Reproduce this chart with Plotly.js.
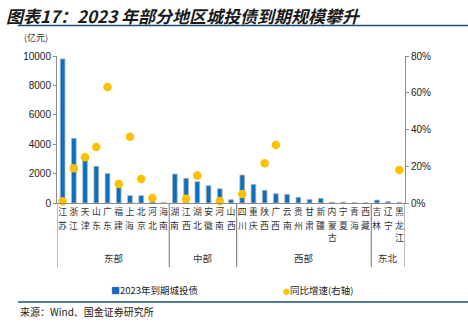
<!DOCTYPE html>
<html><head><meta charset="utf-8">
<script src="https://cdn.plot.ly/plotly-3.0.1.min.js"></script>
<style>html,body{margin:0;padding:0;background:#fff;}#c{width:468px;height:324px;}</style>
</head><body><div id="c"></div>
<script>
const provinces = ["江苏","浙江","天津","山东","广东","福建","上海","北京","河北","海南",
  "湖南","江西","湖北","安徽","河南","山西",
  "四川","重庆","陕西","广西","云南","贵州","甘肃","新疆","内蒙古","宁夏","青海","西藏",
  "吉林","辽宁","黑龙江"];
const maturity = [9800,4400,2950,2500,2000,1100,500,500,150,30,
  1970,1680,1450,1180,970,225,
  1900,1270,860,630,590,390,240,320,50,50,30,20,
  200,90,40];
const growth = [1,18.9,24.9,30.5,63.1,10.3,36.1,13,2.7,null,
  null,2.3,14.9,null,1.1,null,
  4.9,null,21.6,31.6,null,null,null,null,null,null,null,null,
  null,null,18];
const regions = ["东部","中部","西部","东北"];
const regionSizes = [10,6,12,3];
const leftTicks = [0,2000,4000,6000,8000,10000];
const rightTicks = [0,20,40,60,80];

const idx = provinces.map((_, i) => i);
const tickText = provinces.map(p => p[0]);

const cjk = '"Noto Sans CJK SC", sans-serif';
const arial = '"Liberation Sans", Arial, sans-serif';
const traces = [
  {type:'bar', x: idx, y: maturity, name:'2023年到期城投债', width:0.42,
   marker:{color:'#0a6fc2', line:{color:'#b4b4b4', width:0.8}}, showlegend:false},
  {type:'scatter', mode:'markers', x: idx, y: growth, yaxis:'y2', name:'同比增速(右轴)',
   marker:{color:'#ffc000', size:8.5}, showlegend:false, cliponaxis:false}
];

const px = v => (v - 57) / 348;
const py = v => (203 - v) / 147;

const shapes = [];
const annotations = [];

// remaining characters of each vertical province label
provinces.forEach((p, i) => {
  p.split("").slice(1).forEach((ch, k) => {
    annotations.push({xref:'x', yref:'paper', x: i, y: py(214 + 11.5*(k+1)), text: ch,
      showarrow:false, xanchor:'center', yanchor:'middle',
      font:{family:cjk, size:8.8, color:'#333'}});
  });
});

let start = 0;
const bounds = [-0.5];
regionSizes.forEach(n => { start += n; bounds.push(start - 0.5); });
bounds.forEach(b => {
  shapes.push({type:'line', xref:'x', yref:'paper', x0:b, x1:b, y0:0, y1:-0.435,
    line:{color:'#8c8c8c', width:1.2}});
});
regions.forEach((r, i) => {
  const mid = (bounds[i] + bounds[i+1]) / 2;
  annotations.push({xref:'x', yref:'paper', x: mid, y: py(258), text: r, showarrow:false,
    font:{family:cjk, size:9.5, color:'#333'}, xanchor:'center', yanchor:'middle'});
});

annotations.push({xref:'paper', yref:'paper', x: px(4), y: py(16), xanchor:'left', yanchor:'middle',
  text:'<b><i>图表17：2023 年部分地区城投债到期规模攀升</i></b>', showarrow:false,
  font:{family:cjk, size:17, color:'#1a1a1a'}});
annotations.push({xref:'paper', yref:'paper', x: px(22), y: py(37), xanchor:'left', yanchor:'middle',
  text:'(亿元)', showarrow:false, font:{family:cjk, size:9, color:'#333'}});
annotations.push({xref:'paper', yref:'paper', x: px(109), y: py(290), xanchor:'left', yanchor:'middle',
  text:'<span style="color:#0a6fc2;font-size:9px">■</span>2023年到期城投债', showarrow:false,
  font:{family:cjk, size:9.5, color:'#222'}});
annotations.push({xref:'paper', yref:'paper', x: px(281), y: py(290), xanchor:'left', yanchor:'middle',
  text:'<span style="color:#ffc000;font-size:7px">●</span>同比增速(右轴)', showarrow:false,
  font:{family:cjk, size:9.5, color:'#222'}});
annotations.push({xref:'paper', yref:'paper', x: px(18), y: py(311), xanchor:'left', yanchor:'middle',
  text:'来源：Wind、国金证券研究所', showarrow:false,
  font:{family:cjk, size:10, color:'#222'}});
shapes.push({type:'line', xref:'paper', yref:'paper', x0:px(18), x1:px(468), y0:py(25.5), y1:py(25.5),
  line:{color:'#1f4e79', width:1.5}});
shapes.push({type:'line', xref:'paper', yref:'paper', x0:px(18), x1:px(468), y0:py(302), y1:py(302),
  line:{color:'#1f4e79', width:1.5}});

const layout = {
  width:468, height:324,
  margin:{l:57, r:63, t:56, b:121},
  paper_bgcolor:'#fff', plot_bgcolor:'#fff',
  xaxis:{tickmode:'array', tickvals: idx, ticktext: tickText, range:[-0.5, provinces.length-0.5],
    showline:true, linecolor:'#8c8c8c', linewidth:1, ticks:'', tickangle:0,
    tickfont:{family:cjk, size:8.8, color:'#333'}, showgrid:false, zeroline:false, fixedrange:true},
  yaxis:{range:[0,10000], tickmode:'array', tickvals:leftTicks, ticktext: leftTicks.map(String),
    showline:true, linecolor:'#8c8c8c', linewidth:1, ticks:'outside', ticklen:3, tickcolor:'#8c8c8c',
    tickfont:{family:arial, size:10, color:'#222'}, showgrid:false, zeroline:false},
  yaxis2:{range:[0,80], overlaying:'y', side:'right', tickmode:'array', tickvals:rightTicks,
    ticktext: rightTicks.map(v => v + '%'),
    showline:true, linecolor:'#8c8c8c', linewidth:1, ticks:'outside', ticklen:3,
    tickcolor:'#8c8c8c', tickfont:{family:arial, size:10, color:'#222'},
    showgrid:false, zeroline:false},
  shapes: shapes,
  annotations: annotations,
  showlegend:false
};
Plotly.newPlot('c', traces, layout, {displayModeBar:false, staticPlot:true});
</script></body></html>
